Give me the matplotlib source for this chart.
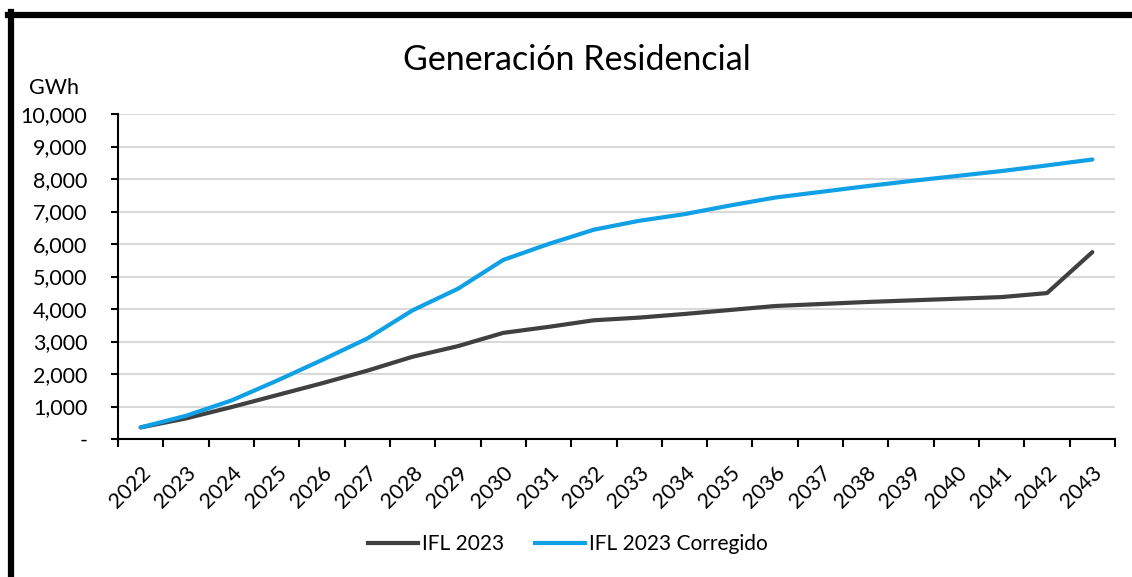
import matplotlib
matplotlib.use("Agg")
import matplotlib.pyplot as plt
from matplotlib.lines import Line2D
from matplotlib.ticker import FuncFormatter, FixedLocator

years = [str(y) for y in range(2022, 2044)]
ifl_2023 = [357, 633, 980, 1347, 1714, 2102, 2531, 2857, 3265, 3450, 3653,
            3735, 3847, 3969, 4092, 4153, 4214, 4265, 4316, 4367, 4490, 5750]
ifl_2023_corr = [357, 714, 1184, 1790, 2429, 3092, 3959, 4622, 5510, 6000, 6440,
                 6714, 6918, 7184, 7429, 7602, 7776, 7939, 8092, 8245, 8418, 8600]
y_ticks = [0, 1000, 2000, 3000, 4000, 5000, 6000, 7000, 8000, 9000, 10000]

plt.rcParams['font.family'] = ['Lato', 'DejaVu Sans']

W, H = 1132, 577
fig = plt.figure(figsize=(W / 100, H / 100), dpi=100)
fig.patch.set_facecolor('white')

ax = fig.add_axes([118 / W, 1 - 439 / H, (1115 - 118) / W, (439 - 114) / H])

x = list(range(len(years)))
ax.plot(x, ifl_2023, color='#404040', lw=3.0, solid_capstyle='round', label='IFL 2023', zorder=3)
ax.plot(x, ifl_2023_corr, color='#0FA0E6', lw=3.0, solid_capstyle='round', label='IFL 2023 Corregido', zorder=4)

ax.set_xlim(-0.5, len(years) - 0.5)
ax.set_ylim(0, 10000)

ax.set_yticks(y_ticks)
ax.yaxis.set_major_formatter(FuncFormatter(lambda v, p: '-' if v == 0 else f'{int(v):,}'))
ax.tick_params(axis='y', labelsize=15.5, length=5, width=1.5, direction='out', pad=17, colors='black')
ax.yaxis.grid(True, color='#D9D9D9', lw=1.5)
ax.set_axisbelow(True)

ax.xaxis.set_major_locator(FixedLocator([i - 0.5 for i in range(len(years) + 1)]))
ax.xaxis.set_major_formatter(FuncFormatter(lambda v, p: ''))
ax.xaxis.set_minor_locator(FixedLocator(x))
ax.set_xticklabels(years, minor=True, rotation=45, ha='right', va='top', rotation_mode='anchor', fontsize=15.5)
ax.tick_params(axis='x', which='major', length=6, width=1.5, direction='out')
ax.tick_params(axis='x', which='minor', length=0, pad=17)

for s in ['top', 'right']:
    ax.spines[s].set_visible(False)
for s in ['left', 'bottom']:
    ax.spines[s].set_linewidth(1.5)
    ax.spines[s].set_color('black')

fig.text(577 / W, 1 - 60 / H, 'Generación Residencial', ha='center', va='center', fontsize=24.5)
fig.text(54 / W, 1 - 88 / H, 'GWh', ha='center', va='center', fontsize=15.5)

handles = [Line2D([], [], color='#404040', lw=3.0), Line2D([], [], color='#0FA0E6', lw=3.0)]
fig.legend(handles, ['IFL 2023', 'IFL 2023 Corregido'], loc='center', bbox_to_anchor=(568 / W, 1 - 544 / H),
           ncol=2, frameon=False, fontsize=15, handlelength=2.4, handletextpad=0.2, columnspacing=1.5)

# frame lines (top and left thick border)
fig.add_artist(Line2D([8 / W, 1.0], [1 - 15 / H, 1 - 15 / H], color='black', lw=4.5, transform=fig.transFigure))
fig.add_artist(Line2D([11 / W, 11 / W], [1 - 12 / H, 0.0], color='black', lw=4.5, transform=fig.transFigure))

fig.savefig('out.png', dpi=100)
